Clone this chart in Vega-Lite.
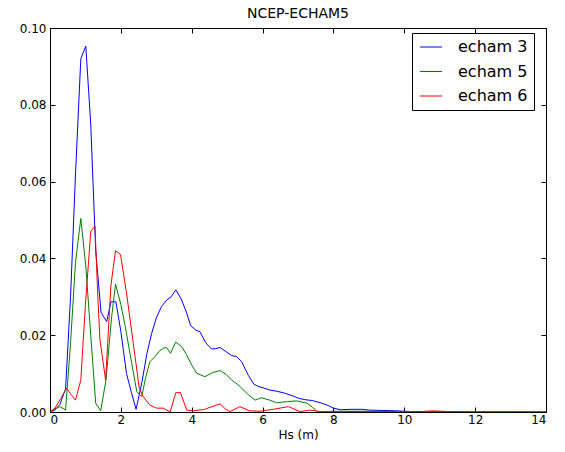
{
  "$schema": "https://vega.github.io/schema/vega-lite/v6.json",
  "width": 496,
  "height": 384,
  "autosize": "none",
  "padding": {"left": 50, "top": 28, "right": 19, "bottom": 40},
  "background": "white",
  "config": {
    "font": "DejaVu Sans",
    "view": {"stroke": "black", "strokeWidth": 1},
    "title": {"fontWeight": 400},
    "axis": {"grid": false, "domainColor": "black", "tickColor": "black", "labelColor": "black", "labelFont": "DejaVu Sans", "labelFontSize": 12, "titleFont": "DejaVu Sans", "titleFontWeight": 400, "titleFontSize": 12, "titleColor": "black"}
  },
  "title": {"text": "NCEP-ECHAM5", "font": "DejaVu Sans", "fontSize": 14, "fontWeight": 400, "color": "black", "offset": 1},
  "datasets": {
    "d": [
      {"s": "echam 3", "x": 0, "y": 0},
      {"s": "echam 3", "x": 0.14, "y": 0.0005},
      {"s": "echam 3", "x": 0.28, "y": 0.002},
      {"s": "echam 3", "x": 0.44, "y": 0.006},
      {"s": "echam 3", "x": 0.58, "y": 0.03},
      {"s": "echam 3", "x": 0.72, "y": 0.062},
      {"s": "echam 3", "x": 0.87, "y": 0.092},
      {"s": "echam 3", "x": 1.01, "y": 0.0953},
      {"s": "echam 3", "x": 1.15, "y": 0.075},
      {"s": "echam 3", "x": 1.29, "y": 0.042},
      {"s": "echam 3", "x": 1.44, "y": 0.026},
      {"s": "echam 3", "x": 1.6, "y": 0.0235},
      {"s": "echam 3", "x": 1.72, "y": 0.0287},
      {"s": "echam 3", "x": 1.86, "y": 0.0287},
      {"s": "echam 3", "x": 2.0, "y": 0.021},
      {"s": "echam 3", "x": 2.16, "y": 0.01},
      {"s": "echam 3", "x": 2.3, "y": 0.005},
      {"s": "echam 3", "x": 2.43, "y": 0.0007},
      {"s": "echam 3", "x": 2.6, "y": 0.008},
      {"s": "echam 3", "x": 2.73, "y": 0.015},
      {"s": "echam 3", "x": 2.87, "y": 0.0205},
      {"s": "echam 3", "x": 3.0, "y": 0.0245},
      {"s": "echam 3", "x": 3.15, "y": 0.0275},
      {"s": "echam 3", "x": 3.3, "y": 0.0292},
      {"s": "echam 3", "x": 3.42, "y": 0.03},
      {"s": "echam 3", "x": 3.55, "y": 0.0318},
      {"s": "echam 3", "x": 3.7, "y": 0.0295},
      {"s": "echam 3", "x": 3.85, "y": 0.026},
      {"s": "echam 3", "x": 3.97, "y": 0.0225},
      {"s": "echam 3", "x": 4.12, "y": 0.0213},
      {"s": "echam 3", "x": 4.23, "y": 0.0209},
      {"s": "echam 3", "x": 4.4, "y": 0.018},
      {"s": "echam 3", "x": 4.56, "y": 0.0164},
      {"s": "echam 3", "x": 4.68, "y": 0.0165},
      {"s": "echam 3", "x": 4.8, "y": 0.0168},
      {"s": "echam 3", "x": 4.97, "y": 0.0157},
      {"s": "echam 3", "x": 5.13, "y": 0.0147},
      {"s": "echam 3", "x": 5.27, "y": 0.0144},
      {"s": "echam 3", "x": 5.41, "y": 0.0131},
      {"s": "echam 3", "x": 5.6, "y": 0.0095},
      {"s": "echam 3", "x": 5.76, "y": 0.0072},
      {"s": "echam 3", "x": 5.9, "y": 0.0066},
      {"s": "echam 3", "x": 6.05, "y": 0.0062},
      {"s": "echam 3", "x": 6.21, "y": 0.0057},
      {"s": "echam 3", "x": 6.4, "y": 0.0054},
      {"s": "echam 3", "x": 6.63, "y": 0.0049},
      {"s": "echam 3", "x": 6.85, "y": 0.0042},
      {"s": "echam 3", "x": 7.01, "y": 0.0036},
      {"s": "echam 3", "x": 7.2, "y": 0.0032},
      {"s": "echam 3", "x": 7.4, "y": 0.003},
      {"s": "echam 3", "x": 7.67, "y": 0.0023},
      {"s": "echam 3", "x": 7.85, "y": 0.0017},
      {"s": "echam 3", "x": 8.0, "y": 0.001},
      {"s": "echam 3", "x": 8.2, "y": 0.0006},
      {"s": "echam 3", "x": 8.5, "y": 0.0007},
      {"s": "echam 3", "x": 8.8, "y": 0.0007},
      {"s": "echam 3", "x": 9.0, "y": 0.0005},
      {"s": "echam 3", "x": 9.4, "y": 0.0004},
      {"s": "echam 3", "x": 9.8, "y": 0.0003},
      {"s": "echam 3", "x": 10.2, "y": 0.0001},
      {"s": "echam 3", "x": 10.6, "y": 0},
      {"s": "echam 3", "x": 14, "y": 0},
      {"s": "echam 5", "x": 0, "y": 0},
      {"s": "echam 5", "x": 0.14, "y": 0.0008},
      {"s": "echam 5", "x": 0.28, "y": 0.0014},
      {"s": "echam 5", "x": 0.44, "y": 0.0005},
      {"s": "echam 5", "x": 0.58, "y": 0.018},
      {"s": "echam 5", "x": 0.72, "y": 0.039},
      {"s": "echam 5", "x": 0.87, "y": 0.0504},
      {"s": "echam 5", "x": 1.01, "y": 0.038},
      {"s": "echam 5", "x": 1.15, "y": 0.02},
      {"s": "echam 5", "x": 1.29, "y": 0.0023},
      {"s": "echam 5", "x": 1.43, "y": 0.0003},
      {"s": "echam 5", "x": 1.58, "y": 0.0083},
      {"s": "echam 5", "x": 1.74, "y": 0.0248},
      {"s": "echam 5", "x": 1.85, "y": 0.0333},
      {"s": "echam 5", "x": 2.0, "y": 0.028},
      {"s": "echam 5", "x": 2.12, "y": 0.0225},
      {"s": "echam 5", "x": 2.3, "y": 0.013},
      {"s": "echam 5", "x": 2.45, "y": 0.0053},
      {"s": "echam 5", "x": 2.59, "y": 0.004},
      {"s": "echam 5", "x": 2.7, "y": 0.009},
      {"s": "echam 5", "x": 2.82, "y": 0.0131},
      {"s": "echam 5", "x": 2.96, "y": 0.0144},
      {"s": "echam 5", "x": 3.1, "y": 0.016},
      {"s": "echam 5", "x": 3.2, "y": 0.0166},
      {"s": "echam 5", "x": 3.29, "y": 0.0168},
      {"s": "echam 5", "x": 3.4, "y": 0.0153},
      {"s": "echam 5", "x": 3.55, "y": 0.0182},
      {"s": "echam 5", "x": 3.72, "y": 0.017},
      {"s": "echam 5", "x": 3.85, "y": 0.015},
      {"s": "echam 5", "x": 4.0, "y": 0.0122},
      {"s": "echam 5", "x": 4.14, "y": 0.0101},
      {"s": "echam 5", "x": 4.37, "y": 0.0092},
      {"s": "echam 5", "x": 4.6, "y": 0.0103},
      {"s": "echam 5", "x": 4.8, "y": 0.0108},
      {"s": "echam 5", "x": 4.97, "y": 0.0098},
      {"s": "echam 5", "x": 5.13, "y": 0.0083},
      {"s": "echam 5", "x": 5.28, "y": 0.0073},
      {"s": "echam 5", "x": 5.41, "y": 0.0062},
      {"s": "echam 5", "x": 5.6, "y": 0.0045},
      {"s": "echam 5", "x": 5.79, "y": 0.0031},
      {"s": "echam 5", "x": 5.97, "y": 0.0037},
      {"s": "echam 5", "x": 6.2, "y": 0.0031},
      {"s": "echam 5", "x": 6.4, "y": 0.0024},
      {"s": "echam 5", "x": 6.7, "y": 0.0027},
      {"s": "echam 5", "x": 6.96, "y": 0.0029},
      {"s": "echam 5", "x": 7.25, "y": 0.0023},
      {"s": "echam 5", "x": 7.4, "y": 0.0013},
      {"s": "echam 5", "x": 7.55, "y": 0},
      {"s": "echam 5", "x": 8.0, "y": 0.0002},
      {"s": "echam 5", "x": 9.0, "y": 0.0002},
      {"s": "echam 5", "x": 10.0, "y": 0.0001},
      {"s": "echam 5", "x": 14, "y": 0},
      {"s": "echam 6", "x": 0, "y": 0},
      {"s": "echam 6", "x": 0.14, "y": 0.001},
      {"s": "echam 6", "x": 0.3, "y": 0.0035},
      {"s": "echam 6", "x": 0.47, "y": 0.0062},
      {"s": "echam 6", "x": 0.6, "y": 0.0045},
      {"s": "echam 6", "x": 0.72, "y": 0.0031},
      {"s": "echam 6", "x": 0.87, "y": 0.0083},
      {"s": "echam 6", "x": 1.0, "y": 0.028},
      {"s": "echam 6", "x": 1.15, "y": 0.047},
      {"s": "echam 6", "x": 1.27, "y": 0.0484},
      {"s": "echam 6", "x": 1.35, "y": 0.03},
      {"s": "echam 6", "x": 1.41, "y": 0.0188},
      {"s": "echam 6", "x": 1.57, "y": 0.0083},
      {"s": "echam 6", "x": 1.72, "y": 0.033},
      {"s": "echam 6", "x": 1.85, "y": 0.042},
      {"s": "echam 6", "x": 1.99, "y": 0.041},
      {"s": "echam 6", "x": 2.16, "y": 0.031},
      {"s": "echam 6", "x": 2.35, "y": 0.0179},
      {"s": "echam 6", "x": 2.52, "y": 0.0062},
      {"s": "echam 6", "x": 2.63, "y": 0.004},
      {"s": "echam 6", "x": 2.82, "y": 0.0018},
      {"s": "echam 6", "x": 3.01, "y": 0.001},
      {"s": "echam 6", "x": 3.2, "y": 0.001},
      {"s": "echam 6", "x": 3.39, "y": 0},
      {"s": "echam 6", "x": 3.55, "y": 0.005},
      {"s": "echam 6", "x": 3.68, "y": 0.0051},
      {"s": "echam 6", "x": 3.86, "y": 0.0005},
      {"s": "echam 6", "x": 4.05, "y": 0.0003},
      {"s": "echam 6", "x": 4.37, "y": 0.0007},
      {"s": "echam 6", "x": 4.6, "y": 0.0015},
      {"s": "echam 6", "x": 4.8, "y": 0.0021},
      {"s": "echam 6", "x": 4.95, "y": 0.0008},
      {"s": "echam 6", "x": 5.08, "y": 0.0001},
      {"s": "echam 6", "x": 5.36, "y": 0.0014},
      {"s": "echam 6", "x": 5.64, "y": 0.0003},
      {"s": "echam 6", "x": 5.93, "y": 0.0002},
      {"s": "echam 6", "x": 6.3, "y": 0.0007},
      {"s": "echam 6", "x": 6.73, "y": 0.0014},
      {"s": "echam 6", "x": 7.06, "y": 0.0001},
      {"s": "echam 6", "x": 7.34, "y": 0.0005},
      {"s": "echam 6", "x": 7.71, "y": 0},
      {"s": "echam 6", "x": 8.5, "y": 0.0001},
      {"s": "echam 6", "x": 9.5, "y": 0.0001},
      {"s": "echam 6", "x": 10.3, "y": 0},
      {"s": "echam 6", "x": 10.8, "y": 0.0003},
      {"s": "echam 6", "x": 11.3, "y": 0.0001},
      {"s": "echam 6", "x": 12, "y": 0},
      {"s": "echam 6", "x": 14, "y": 0}
    ]
  },
  "data": {"name": "d"},
  "layer": [
    {
      "mark": {"type": "line", "strokeWidth": 1, "clip": true},
      "encoding": {
        "x": {"field": "x", "type": "quantitative", "scale": {"domain": [0, 14], "nice": false, "zero": false},
          "axis": {"title": "Hs (m)", "values": [0, 2, 4, 6, 8, 10, 12, 14], "format": "d", "tickSize": -5, "labelPadding": 7, "titlePadding": 4, "domain": false}},
        "y": {"field": "y", "type": "quantitative", "scale": {"domain": [0, 0.1], "nice": false},
          "axis": {"title": null, "values": [0, 0.02, 0.04, 0.06, 0.08, 0.1], "format": ".2f", "tickSize": -5, "labelPadding": 9, "domain": false}},
        "color": {"field": "s", "type": "nominal",
          "scale": {"domain": ["echam 3", "echam 5", "echam 6"], "range": ["#0000ff", "#008000", "#ff0000"]},
          "legend": {"title": null, "orient": "none", "legendX": 362, "legendY": 5, "symbolType": "M-2,0H2", "symbolSize": 121, "symbolStrokeWidth": 1, "symbolOffset": 5, "labelFontSize": 16, "labelFont": "DejaVu Sans", "labelColor": "black", "labelOffset": 19, "strokeColor": "black", "fillColor": "white", "padding": 6, "rowPadding": 8.5, "cornerRadius": 0}}
      }
    },
    {
      "mark": {"type": "line", "opacity": 0},
      "encoding": {
        "x": {"field": "x", "type": "quantitative", "scale": {"domain": [0, 14], "nice": false, "zero": false},
          "axis": {"orient": "top", "title": null, "labels": false, "values": [0, 2, 4, 6, 8, 10, 12, 14], "tickSize": -5, "domain": false}},
        "y": {"field": "y", "type": "quantitative", "scale": {"domain": [0, 0.1], "nice": false},
          "axis": {"orient": "right", "title": null, "labels": false, "values": [0, 0.02, 0.04, 0.06, 0.08, 0.1], "tickSize": -5, "domain": false}}
      }
    }
  ],
  "resolve": {"axis": {"x": "independent", "y": "independent"}}
}
